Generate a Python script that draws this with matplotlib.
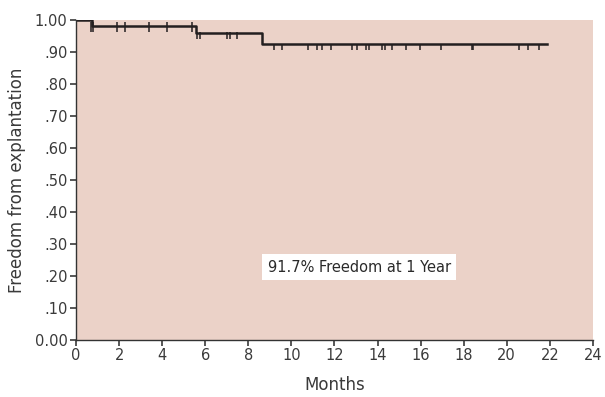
import matplotlib
matplotlib.use("Agg")
import matplotlib.pyplot as plt
import numpy as np

# Kaplan-Meier step data (months, survival)
step_times = [0.0, 0.75, 5.55, 8.62, 21.85]
step_surv = [1.0, 0.982, 0.958, 0.925, 0.925]

# Censor marks
cens1_t = [0.68, 0.80, 1.89, 2.28, 3.40, 4.24, 5.37]
cens2_t = [5.60, 5.76, 7.00, 7.15, 7.46]
cens3_t = [9.21, 9.55, 10.78, 11.17, 11.40, 11.82, 12.80, 13.06, 13.46, 13.61,
           14.22, 14.34, 14.68, 15.32, 15.97, 16.94, 18.37, 18.45, 20.58, 20.97, 21.51]

xticks = list(range(0, 25, 2))
yticks = [0.0, 0.1, 0.2, 0.3, 0.4, 0.5, 0.6, 0.7, 0.8, 0.9, 1.0]
ytick_labels = ["0.00", ".10", ".20", ".30", ".40", ".50", ".60", ".70", ".80", ".90", "1.00"]

plt.rcParams['font.family'] = ['DejaVu Sans']
fig = plt.figure(figsize=(6.05, 3.97), dpi=100)
ax = fig.add_axes([0.1256, 0.1436, 0.8544, 0.806])
ax.set_facecolor('#ebd2c8')

ink = '#231f20'
ax.step(step_times, step_surv, where='post', color=ink, lw=1.8)

for t in cens1_t:
    ax.vlines(t, step_surv[1] - 0.018, step_surv[1] + 0.012, color=ink, lw=1.1)
for t in cens2_t:
    ax.vlines(t, step_surv[2] - 0.018, step_surv[2] + 0.004, color=ink, lw=1.1)
for t in cens3_t:
    ax.vlines(t, step_surv[3] - 0.02, step_surv[3], color=ink, lw=1.1)

ax.set_xlim(0, 24)
ax.set_ylim(0, 1.0)
ax.set_xticks(xticks)
ax.set_yticks(yticks)
ax.set_yticklabels(ytick_labels)
txtc = '#3a3a3a'
ax.tick_params(axis='both', colors=txtc, labelsize=10.5, length=4, width=1.2, direction='out', pad=2)
for s in ['top', 'right']:
    ax.spines[s].set_visible(False)
for s in ['left', 'bottom']:
    ax.spines[s].set_color('#333333')
    ax.spines[s].set_linewidth(1.0)

ax.set_xlabel('Months', fontsize=12, color=txtc, labelpad=9)
ax.set_ylabel('Freedom from explantation', fontsize=12, color=txtc, labelpad=6)

ax.text(8.9, 0.228, '91.7% Freedom at 1 Year', fontsize=10.5, color='#2a2a2a',
        va='center', ha='left',
        bbox=dict(facecolor='white', edgecolor='none', pad=4))

fig.savefig('out.png', dpi=100)
